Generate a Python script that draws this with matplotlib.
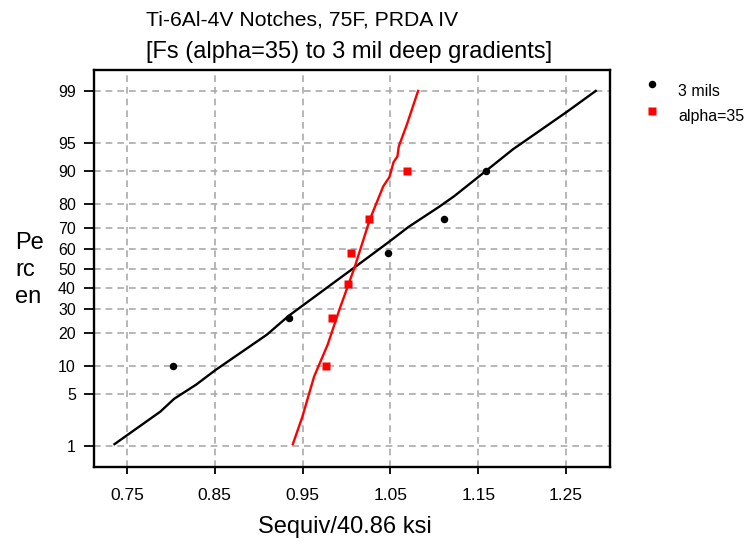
import numpy as np
import matplotlib
matplotlib.use("Agg")
import matplotlib.pyplot as plt
from matplotlib.lines import Line2D
from matplotlib.ticker import NullLocator
from statistics import NormalDist

plt.rcParams['font.family'] = ['Liberation Sans', 'DejaVu Sans']

# ---- data ----
pct_ticks = [1, 5, 10, 20, 30, 40, 50, 60, 70, 80, 90, 95, 99]
x_ticks = [0.75, 0.85, 0.95, 1.05, 1.15, 1.25]

mils3_x = [0.8026, 0.9343, 1.0476, 1.1113, 1.1590]
mils3_p = [10, 26, 58, 74, 90]

alpha35_x = [0.9762, 0.9832, 1.0015, 1.0046, 1.0254, 1.0694]
alpha35_p = [10, 26, 42, 58, 74, 90]

mils3_fit_x = [0.7358, 0.7880, 0.8038, 0.8287, 0.8510, 0.9093, 0.9343, 1.0092,
               1.0476, 1.0706, 1.1052, 1.1225, 1.1610, 1.1897, 1.2050, 1.2511, 1.2838]
mils3_fit_p = [1.07, 3.04, 4.4, 6.4, 9.2, 19.3, 26.8, 50.6,
               63.4, 70.7, 79.0, 82.8, 90.3, 94.1, 95.4, 98.0, 99.0]

alpha35_fit_x = [0.9389, 0.9497, 0.9631, 0.9785, 0.9919, 1.0092, 1.0265, 1.0418,
                 1.0490, 1.0535, 1.0580, 1.0595, 1.0688, 1.0815]
alpha35_fit_p = [1.07, 2.6, 7.85, 15.9, 29.5, 50.6, 73.9, 85.9,
                 88.5, 91.8, 92.9, 94.5, 97.05, 99.0]

nd = NormalDist()
_ppf = np.vectorize(nd.inv_cdf, otypes=[float])
_cdf = np.vectorize(nd.cdf, otypes=[float])


def fwd(p):
    p = np.clip(np.asarray(p, dtype=float) / 100.0, 1e-9, 1 - 1e-9)
    return _ppf(p)


def inv(z):
    return _cdf(np.asarray(z, dtype=float)) * 100.0


W, H = 746, 542
fig = plt.figure(figsize=(W / 100, H / 100), dpi=100)
ax = fig.add_axes([94 / W, 1 - 467 / H, 516 / W, 397 / H])
ax.set_yscale('function', functions=(fwd, inv))

ax.plot(mils3_fit_x, mils3_fit_p, color='black', lw=1.7, zorder=3)
ax.plot(alpha35_fit_x, alpha35_fit_p, color='red', lw=1.7, zorder=3)
ax.plot(mils3_x, mils3_p, 'o', color='black', ms=4.4, zorder=4)
ax.plot(alpha35_x, alpha35_p, 's', color='red', ms=5.2, mec='none', zorder=4)

ax.set_xlim(0.7125, 1.30)
ax.set_ylim(inv(-2.6), inv(2.6))
ax.set_yticks(pct_ticks)
ax.set_yticklabels([str(t) for t in pct_ticks])
ax.yaxis.set_minor_locator(NullLocator())
ax.set_xticks(x_ticks)
ax.set_xticklabels([f"{t:.2f}" for t in x_ticks])
ax.xaxis.set_minor_locator(NullLocator())

ax.grid(True, color='#aaaaaa', lw=1.2, ls=(0, (4, 3)), zorder=1)
ax.set_axisbelow(True)
for s in ax.spines.values():
    s.set_linewidth(1.7)
ax.tick_params(axis='y', direction='out', length=7, width=1.3, labelsize=11.5, pad=6)
ax.tick_params(axis='x', direction='out', length=5, width=1.3, labelsize=12.5, pad=10)

fig.text(146 / W, 1 - 25 / H, "Ti-6Al-4V Notches, 75F, PRDA IV", fontsize=15.2,
         ha='left', va='baseline')
fig.text(146 / W, 1 - 58 / H, "[Fs (alpha=35) to 3 mil deep gradients]", fontsize=17,
         ha='left', va='baseline')
fig.text(345 / W, 1 - 527 / H, "Sequiv/40.86 ksi", fontsize=17, ha='center', va='center')
fig.text(15 / W, 1 - 270 / H, "Pe\nrc\nen", fontsize=17, ha='left', va='center',
         linespacing=1.3)

# legend
fig.add_artist(Line2D([652 / W], [1 - 84 / H], marker='o', color='black', ms=4.4,
                      transform=fig.transFigure))
fig.add_artist(Line2D([652 / W], [1 - 111 / H], marker='s', color='red', ms=5.2, mec='none',
                      transform=fig.transFigure))
fig.text(678 / W, 1 - 92 / H, "3 mils", fontsize=11.5, ha='left', va='center')
fig.text(678 / W, 1 - 117 / H, "alpha=35", fontsize=11.5, ha='left', va='center')

fig.savefig("out.png", dpi=100)
